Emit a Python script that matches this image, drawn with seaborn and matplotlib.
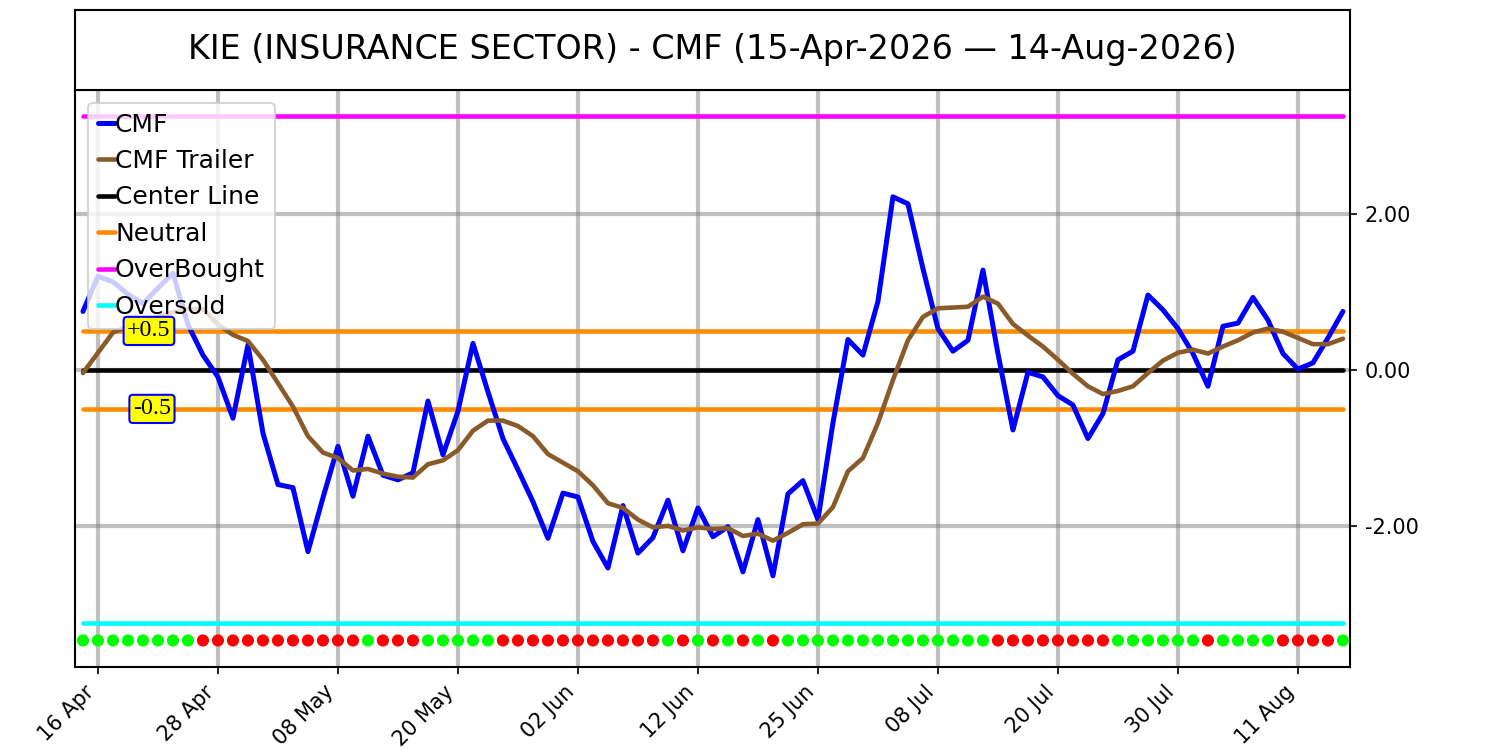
import numpy as np
import pandas as pd
import matplotlib
matplotlib.use("Agg")
import matplotlib.pyplot as plt
import seaborn as sns

# ---------------- data ----------------
start_date = "2026-04-15"
end_date = "2026-08-14"
holidays = ["2026-05-25", "2026-06-19", "2026-07-03"]

cmf = [0.75, 1.20, 1.13, 0.97, 0.85, 1.05, 1.24, 0.58, 0.19, -0.09,
       -0.62, 0.32, -0.81, -1.47, -1.51, -2.33, -1.64, -0.98, -1.62, -0.85,
       -1.35, -1.41, -1.32, -0.40, -1.09, -0.53, 0.34, -0.28, -0.88, -1.28,
       -1.69, -2.16, -1.58, -1.63, -2.20, -2.54, -1.74, -2.35, -2.15, -1.67,
       -2.32, -1.77, -2.14, -2.01, -2.59, -1.92, -2.64, -1.59, -1.42, -1.92,
       -0.68, 0.39, 0.19, 0.88, 2.22, 2.13, 1.30, 0.53, 0.24, 0.38,
       1.28, 0.21, -0.77, -0.03, -0.09, -0.33, -0.45, -0.88, -0.56, 0.13,
       0.24, 0.96, 0.77, 0.53, 0.21, -0.21, 0.56, 0.60, 0.93, 0.64,
       0.21, 0.01, 0.09, 0.41, 0.75]

trailer = [-0.04, 0.22, 0.48, 0.56, 0.62, 0.68, 0.74, 0.78, 0.78, 0.58,
           0.45, 0.37, 0.13, -0.17, -0.47, -0.85, -1.06, -1.13, -1.29, -1.27,
           -1.33, -1.37, -1.38, -1.21, -1.16, -1.03, -0.78, -0.65, -0.65, -0.72,
           -0.85, -1.08, -1.19, -1.30, -1.48, -1.71, -1.77, -1.92, -2.02, -2.00,
           -2.06, -2.02, -2.04, -2.03, -2.13, -2.10, -2.19, -2.09, -1.98, -1.97,
           -1.76, -1.30, -1.13, -0.68, -0.13, 0.38, 0.68, 0.79, 0.80, 0.81,
           0.94, 0.85, 0.59, 0.44, 0.30, 0.13, -0.05, -0.21, -0.31, -0.27,
           -0.21, -0.04, 0.12, 0.22, 0.26, 0.21, 0.30, 0.38, 0.48, 0.53,
           0.49, 0.41, 0.33, 0.33, 0.40]

signal = list("GGGGGGGG" "RRRRRRRRRRR" "G" "RRR" "GGGGG" "RRRRRRRRRRR"
              "GRGRGRGR" "GGGGGGGGGGGGGG" "RRRRRRRR" "GGGGGG" "R" "GGGG"
              "RRRR" "G")

center_level = 0.0
neutral_levels = [0.5, -0.5]
overbought_level = 3.26
oversold_level = -3.24
signal_level = -3.47
neutral_labels = ["+0.5", "-0.5"]
title = "KIE (INSURANCE SECTOR) - CMF (15-Apr-2026 \u2014 14-Aug-2026)"
ytick_values = [-2.0, 0.0, 2.0]
tick_every = 8
tick_first = 1

# ---------------- build ----------------
dates = pd.bdate_range(start_date, end_date, freq="C", holidays=holidays)
n = len(dates)
idx = np.arange(n)
df = pd.DataFrame({"i": idx, "date": dates, "cmf": cmf, "trailer": trailer,
                   "signal": signal})
df["sig_y"] = signal_level

sns.set_style("white")
plt.rcParams["font.family"] = ["DejaVu Sans"]
plt.rcParams["text.color"] = "black"
plt.rcParams["xtick.color"] = "black"
plt.rcParams["ytick.color"] = "black"
plt.rcParams["axes.labelcolor"] = "black"

fig = plt.figure(figsize=(10, 5), dpi=150)
ax = fig.add_axes([0.05, 0.1107, 0.85, 0.7693])
tax = fig.add_axes([0.05, 0.88, 0.85, 0.1067])

# title box
tax.set_xticks([])
tax.set_yticks([])
for s in tax.spines.values():
    s.set_color("black")
    s.set_linewidth(1.0)
tax.text(0.5, 0.5, title, ha="center", va="center", fontsize=16,
         color="black", transform=tax.transAxes)

# grid
tick_pos = idx[tick_first::tick_every]
for xp in tick_pos:
    ax.axvline(xp, color="gray", alpha=0.5, lw=2, zorder=0)
for yv in ytick_values:
    ax.axhline(yv, color="gray", alpha=0.5, lw=2, zorder=0)

# lines
sns.lineplot(data=df, x="i", y="cmf", ax=ax, color="blue", lw=2.4, label="CMF", zorder=3)
sns.lineplot(data=df, x="i", y="trailer", ax=ax, color="#8B5A2B", lw=2.2,
             label="CMF Trailer", zorder=3)
ax.plot([idx[0], idx[-1]], [center_level] * 2, color="black", lw=2.2, label="Center Line", zorder=2)
ax.plot([idx[0], idx[-1]], [neutral_levels[0]] * 2, color="darkorange", lw=2.2, label="Neutral", zorder=2)
ax.plot([idx[0], idx[-1]], [neutral_levels[1]] * 2, color="darkorange", lw=2.2, zorder=2)
ax.plot([idx[0], idx[-1]], [overbought_level] * 2, color="magenta", lw=2.2, label="OverBought", zorder=2)
ax.plot([idx[0], idx[-1]], [oversold_level] * 2, color="cyan", lw=2.2, label="Oversold", zorder=2)

# signal dots
sns.scatterplot(data=df, x="i", y="sig_y", hue="signal",
                palette={"G": "#00ff00", "R": "red"}, s=34, linewidth=0,
                ax=ax, legend=False, zorder=4)

# neutral labels (drawn above the legend)
for lv, lab, xo in zip(neutral_levels, neutral_labels, [4.4, 4.6]):
    ax.text(xo, lv, lab, ha="center", va="center", fontsize=11.5, color="black",
            family=["Liberation Serif", "DejaVu Serif"], zorder=7,
            bbox=dict(boxstyle="round,pad=0.15", facecolor="yellow",
                      edgecolor="blue", linewidth=1))

ax.set_xlim(-0.53, n - 1 + 0.47)
ax.set_ylim(-3.81, 3.59)
ax.set_xticks(tick_pos)
ax.set_xticklabels([d.strftime("%d %b") for d in dates[tick_first::tick_every]],
                   rotation=45, ha="right", fontsize=10)
ax.yaxis.tick_right()
ax.set_yticks(ytick_values)
ax.set_yticklabels(["%.2f" % v for v in ytick_values], fontsize=10)
ax.tick_params(axis="both", length=3.5, width=0.8, direction="out", bottom=True, right=True,
               colors="black")
ax.set_xlabel("")
ax.set_ylabel("")
for s in ax.spines.values():
    s.set_color("black")
    s.set_linewidth(1.0)

leg = ax.legend(loc="upper left", fontsize=12, handlelength=0.7, handletextpad=0.0,
                framealpha=0.8, borderaxespad=0.5, labelspacing=0.5)
leg.set_zorder(6)
for t in leg.get_texts():
    t.set_color("black")

fig.savefig("out.png", dpi=150)
